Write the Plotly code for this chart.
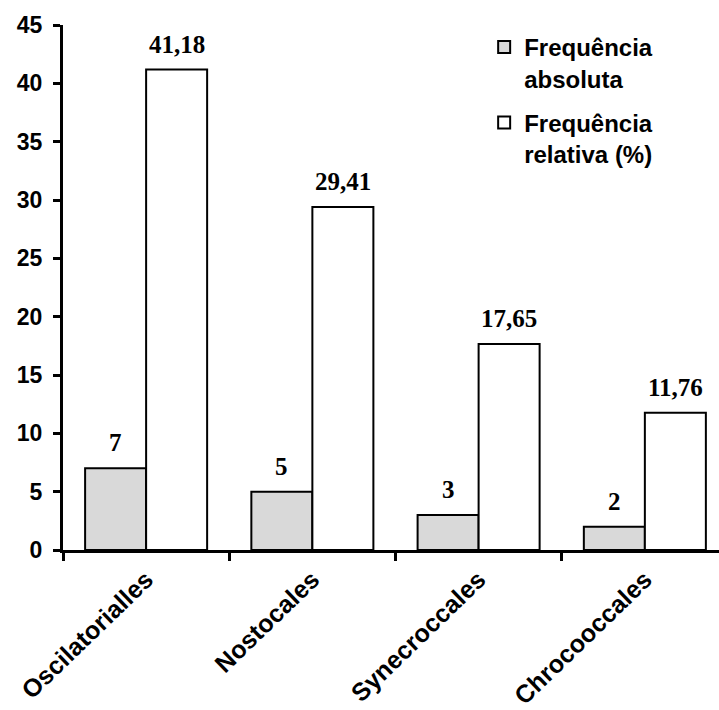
import plotly.graph_objects as go

categories = ["Oscilatorialles", "Nostocales", "Synecroccales", "Chrocooccales"]
freq_abs = [7, 5, 3, 2]
freq_rel = [41.18, 29.41, 17.65, 11.76]
abs_labels = ["7", "5", "3", "2"]
rel_labels = ["41,18", "29,41", "17,65", "11,76"]
y_ticks = [0, 5, 10, 15, 20, 25, 30, 35, 40, 45]

SANS = "Liberation Sans, Arial, sans-serif"
SERIF = "Liberation Serif, Times New Roman, serif"

fig = go.Figure()
fig.add_trace(go.Bar(
    x=categories, y=freq_abs, name="Frequência<br>absoluta",
    marker=dict(color="#d9d9d9", line=dict(color="black", width=2)),
    legendgroup="a",
))
fig.add_trace(go.Bar(
    x=categories, y=freq_rel, name="Frequência<br>relativa (%)",
    marker=dict(color="white", line=dict(color="black", width=2)),
    legendgroup="b",
))

for i, c in enumerate(categories):
    fig.add_annotation(x=i - 0.1835, y=freq_abs[i], xref="x", yref="y",
                       text=abs_labels[i], showarrow=False, yanchor="bottom",
                       yshift=10, font=dict(family=SERIF, size=25, color="black", weight="bold"))
    fig.add_annotation(x=i + 0.1835, y=freq_rel[i], xref="x", yref="y",
                       text=rel_labels[i], showarrow=False, yanchor="bottom",
                       yshift=10, font=dict(family=SERIF, size=25, color="black", weight="bold"))

fig.update_layout(
    width=719, height=710,
    margin=dict(l=63, r=0, t=25, b=160),
    paper_bgcolor="white", plot_bgcolor="white",
    barmode="group", bargap=0.266, bargroupgap=0,
    showlegend=True,
    legend=dict(x=0.642, y=1.0, xanchor="left", yanchor="top",
                font=dict(family=SANS, size=24, color="black", weight="bold"),
                valign="top", tracegroupgap=10, bgcolor="rgba(0,0,0,0)"),
    font=dict(family=SANS, color="black"),
)
fig.update_xaxes(
    type="category", range=[-0.5, 3.446], tickson="boundaries",
    ticks="outside", ticklen=8, tickwidth=3, tickcolor="black",
    showline=True, linecolor="black", linewidth=3,
    tickangle=-44, showgrid=False, ticklabelstandoff=2,
    tickfont=dict(family=SANS, size=25, color="black", weight="bold"),
)
fig.update_yaxes(
    range=[0, 45], tickvals=y_ticks, ticks="outside", ticklen=7, tickwidth=3,
    tickcolor="black", showline=True, linecolor="black", linewidth=3,
    showgrid=False, zeroline=False, ticklabelstandoff=6,
    tickfont=dict(family=SANS, size=23, color="black", weight="bold"),
)

fig.write_html("out.html")
